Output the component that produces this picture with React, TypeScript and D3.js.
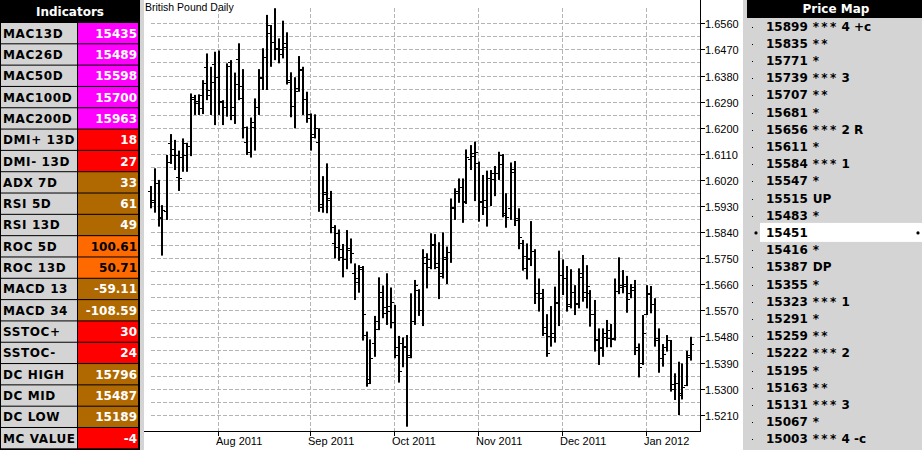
import React from "react";
import * as d3 from "d3";

// ---------------- Indicators panel ----------------
const indicatorLabels = [
  "MAC13D", "MAC26D", "MAC50D", "MAC100D", "MAC200D",
  "DMI+ 13D", "DMI- 13D", "ADX 7D", "RSI 5D", "RSI 13D",
  "ROC 5D", "ROC 13D", "MACD 13", "MACD 34", "SSTOC+",
  "SSTOC-", "DC HIGH", "DC MID", "DC LOW", "MC VALUE",
];
const indicatorValues = [
  "15435", "15489", "15598", "15700", "15963",
  "18", "27", "33", "61", "49",
  "100.61", "50.71", "-59.11", "-108.59", "30",
  "24", "15796", "15487", "15189", "-4",
];
const indicatorSignal = [
  "avg", "avg", "avg", "avg", "avg",
  "bear", "bear", "neutral", "neutral", "neutral",
  "bull", "bull", "neutral", "neutral", "bear",
  "bear", "neutral", "neutral", "neutral", "bear",
];

// ---------------- Price map panel ----------------
const priceMapLevels = [
  15899, 15835, 15771, 15739, 15707, 15681, 15656, 15611, 15584, 15547, 15515, 15483,
  15451,
  15416, 15387, 15355, 15323, 15291, 15259, 15222, 15195, 15163, 15131, 15067, 15003,
];
const priceMapStars = [
  "***", "**", "*", "***", "**", "*", "***", "*", "***", "*", "", "*",
  "",
  "*", "", "*", "***", "*", "**", "***", "*", "**", "***", "*", "***",
];
const priceMapTags = [
  "4 +c", "", "", "3", "", "", "2 R", "", "1", "", "UP", "",
  "",
  "", "DP", "", "1", "", "", "2", "", "", "3", "", "4 -c",
];
const currentLevel = 15451;

// ---------------- Chart data (pips, price x 10000) ----------------
const highs = [
  15999, 16060, 16020, 15933, 16106, 16178, 16158, 16121, 16163, 16148,
  16318, 16313, 16315, 16364, 16456, 16410, 16462, 16466, 16295, 16422,
  16433, 16390, 16491, 16402, 16204, 16235, 16301, 16402, 16474, 16589,
  16554, 16612, 16508, 16569, 16529, 16391, 16374, 16447, 16410, 16324,
  16249, 16246, 16198, 16033, 16077, 15982, 15864, 15849, 15799, 15847,
  15818, 15732, 15726, 15723, 15497, 15470, 15551, 15684, 15656, 15698,
  15649, 15589, 15482, 15477, 15485, 15629, 15675, 15643, 15781, 15767,
  15836, 15833, 15805, 15839, 15790, 15956, 15991, 16025, 16025, 16125,
  16140, 16152, 16083, 16037, 16052, 16054, 16068, 16117, 16109, 15974,
  16080, 16085, 15922, 15813, 15801, 15878, 15781, 15680, 15644, 15557,
  15585, 15652, 15776, 15746, 15723, 15712, 15657, 15715, 15761, 15726,
  15640, 15606, 15508, 15508, 15537, 15523, 15680, 15753, 15709, 15689,
  15661, 15675, 15456, 15554, 15657, 15654, 15612, 15508, 15454, 15485,
  15468, 15353, 15393, 15387, 15431, 15479,
];
const lows = [
  15922, 15907, 15859, 15759, 15882, 16075, 16054, 15982, 16048, 16048,
  16102, 16244, 16244, 16247, 16295, 16244, 16209, 16244, 16209, 16238,
  16226, 16213, 16295, 16163, 16106, 16097, 16121, 16244, 16330, 16330,
  16410, 16433, 16422, 16439, 16349, 16236, 16198, 16324, 16244, 16217,
  16121, 16163, 15910, 15907, 15905, 15836, 15749, 15741, 15684, 15712,
  15732, 15606, 15631, 15466, 15307, 15316, 15410, 15502, 15543, 15520,
  15508, 15405, 15321, 15374, 15169, 15405, 15520, 15551, 15516, 15646,
  15712, 15712, 15609, 15680, 15661, 15734, 15882, 15941, 15872, 15937,
  16054, 15947, 15876, 15899, 15859, 15930, 15964, 16020, 15891, 15855,
  15882, 15861, 15781, 15707, 15677, 15723, 15592, 15566, 15482, 15410,
  15445, 15459, 15516, 15623, 15566, 15577, 15554, 15577, 15600, 15577,
  15514, 15428, 15382, 15410, 15443, 15443, 15466, 15626, 15629, 15562,
  15612, 15416, 15339, 15382, 15554, 15560, 15445, 15355, 15376, 15428,
  15290, 15261, 15209, 15263, 15309, 15397,
];
const opens = [
  15983, 15951, 16009, 15891, 15913, 16146, 16125, 16031, 16100, 16146,
  16138, 16307, 16284, 16267, 16410, 16330, 16418, 16375, 16290, 16272,
  16427, 16244, 16436, 16301, 16152, 16117, 16221, 16272, 16370, 16443,
  16528, 16494, 16474, 16454, 16479, 16359, 16275, 16336, 16401, 16298,
  16246, 16178, 16150, 15937, 15977, 15951, 15801, 15836, 15753, 15746,
  15778, 15698, 15680, 15721, 15485, 15321, 15456, 15534, 15615, 15560,
  15585, 15531, 15416, 15459, 15443, 15416, 15534, 15640, 15571, 15755,
  15746, 15799, 15721, 15689, 15753, 15772, 15925, 15976, 15994, 15948,
  16091, 16114, 16077, 15945, 15925, 16025, 16045, 16043, 16074, 15899,
  15922, 16056, 15887, 15801, 15715, 15749, 15776, 15631, 15631, 15514,
  15482, 15493, 15600, 15692, 15680, 15592, 15634, 15592, 15698, 15615,
  15631, 15557, 15468, 15439, 15491, 15502, 15470, 15638, 15657, 15655,
  15631, 15640, 15445, 15387, 15557, 15626, 15592, 15474, 15405, 15445,
  15468, 15316, 15318, 15278, 15313, 15416,
];
const closes = [
  15945, 16009, 15887, 15916, 16083, 16106, 16106, 16028, 16106, 16138,
  16298, 16292, 16313, 16353, 16313, 16359, 16376, 16292, 16272, 16413,
  16270, 16351, 16344, 16201, 16117, 16201, 16270, 16374, 16445, 16554,
  16494, 16470, 16471, 16491, 16364, 16275, 16328, 16399, 16298, 16232,
  16169, 16198, 15928, 15970, 15956, 15856, 15790, 15781, 15746, 15784,
  15767, 15669, 15712, 15557, 15332, 15405, 15505, 15634, 15581, 15569,
  15600, 15445, 15362, 15447, 15410, 15534, 15657, 15571, 15734, 15721,
  15795, 15734, 15698, 15746, 15770, 15922, 15983, 15997, 15943, 16100,
  16102, 16117, 15948, 15951, 16025, 16023, 16043, 16106, 15905, 15893,
  16048, 15882, 15822, 15759, 15746, 15776, 15631, 15612, 15493, 15422,
  15479, 15594, 15692, 15680, 15585, 15634, 15594, 15684, 15632, 15654,
  15557, 15470, 15443, 15479, 15474, 15474, 15638, 15652, 15661, 15608,
  15649, 15433, 15376, 15493, 15629, 15592, 15468, 15405, 15420, 15468,
  15298, 15321, 15284, 15307, 15410, 15454,
];

const monthTickIndex = [17, 40, 61, 82, 103, 124];
const monthTickLabels = ["Aug 2011", "Sep 2011", "Oct 2011", "Nov 2011", "Dec 2011", "Jan 2012"];
const yTickValues = [
  1.521, 1.53, 1.539, 1.548, 1.557, 1.566, 1.575, 1.584,
  1.593, 1.602, 1.611, 1.62, 1.629, 1.638, 1.647, 1.656,
];

const chartTitle = "British Pound Daily";

// ---------------- Styles ----------------
const signalFill: Record<string, string> = {
  avg: "#ff00ff",
  bear: "#ff0000",
  neutral: "#b06800",
  bull: "#ff6a00",
};
const signalText: Record<string, string> = {
  avg: "#ffffff",
  bear: "#ffffff",
  neutral: "#ffffff",
  bull: "#000000",
};
const PANEL_GRAY = "#d4d4d4";
const BOLD_FONT = "'DejaVu Sans', Verdana, sans-serif";
const CHART_FONT = "'Liberation Sans', Arial, sans-serif";

export default function App() {
  const W = 922;
  const H = 450;

  // chart geometry
  const plotLeft = 144;
  const axisX = 700;
  const axisY = 431;

  const xs = d3.scaleLinear().domain([0, highs.length - 1]).range([150.5, 690.5]);
  const ys = d3.scaleLinear().domain([1.521, 1.656]).range([414.8, 23.3]);
  const p = (v: number) => v / 10000;

  const gridValues = d3.range(0, 31).map((k) => 1.521 + k * 0.0045);

  // indicator rows
  const rowTop = d3.scaleLinear().domain([0, 19]).range([23, 428]);
  const rowH = 20.3;

  // price map rows
  const pmY = d3.scaleLinear().domain([0, priceMapLevels.length - 1]).range([26.5, 439.3]);

  return (
    <svg
      width={W}
      height={H}
      style={{ position: "absolute", left: 0, top: 0, display: "block", background: "#ffffff" }}
    >
      {/* ===== Indicators panel ===== */}
      <rect x={0} y={0} width={140} height={H} fill="#000000" />
      <text
        x={70}
        y={11.5}
        textAnchor="middle"
        dominantBaseline="central"
        fill="#ffffff"
        fontFamily={BOLD_FONT}
        fontWeight="bold"
        fontSize={12}
      >
        Indicators
      </text>
      {indicatorLabels.map((lab, i) => {
        const t = rowTop(i);
        const sig = indicatorSignal[i];
        return (
          <g key={lab}>
            <rect x={1} y={t} width={76} height={rowH} fill={PANEL_GRAY} />
            <rect x={78} y={t} width={60} height={rowH} fill={signalFill[sig]} />
            <text
              x={3}
              y={t + rowH / 2 + 0.5}
              dominantBaseline="central"
              fill="#000000"
              fontFamily={BOLD_FONT}
              fontWeight="bold"
              fontSize={12}
              letterSpacing={0.6}
            >
              {lab}
            </text>
            <text
              x={137}
              y={t + rowH / 2 + 0.5}
              textAnchor="end"
              dominantBaseline="central"
              fill={signalText[sig]}
              fontFamily={BOLD_FONT}
              fontWeight="bold"
              fontSize={12}
            >
              {indicatorValues[i]}
            </text>
          </g>
        );
      })}

      {/* ===== Chart panel ===== */}
      <rect x={140} y={0} width={4} height={H} fill={PANEL_GRAY} />
      <rect x={plotLeft} y={0} width={743 - plotLeft} height={H} fill="#ffffff" />

      {/* horizontal grid */}
      {gridValues.map((v, k) => (
        <line
          key={"hg" + k}
          x1={151}
          x2={axisX}
          y1={Math.round(ys(v)) + 0.5}
          y2={Math.round(ys(v)) + 0.5}
          stroke="#b4b4b4"
          strokeWidth={1}
          strokeDasharray="4 2"
        />
      ))}
      {/* vertical grid */}
      {monthTickIndex.map((idx, k) => (
        <line
          key={"vg" + k}
          x1={Math.floor(xs(idx)) + 0.5}
          x2={Math.floor(xs(idx)) + 0.5}
          y1={8}
          y2={axisY}
          stroke="#b4b4b4"
          strokeWidth={1}
          strokeDasharray="4 2"
        />
      ))}

      <text x={145} y={11} fill="#000000" fontFamily={CHART_FONT} fontSize={10.5}>
        {chartTitle}
      </text>

      {/* OHLC bars */}
      {highs.map((h, i) => {
        const x = Math.round(xs(i));
        const yH = ys(p(h));
        const yL = ys(p(lows[i]));
        const yO = Math.round(ys(p(opens[i])));
        const yC = Math.round(ys(p(closes[i])));
        return (
          <g key={"b" + i} fill="#000000">
            <rect x={x - 1} y={yH} width={2} height={Math.max(1, yL - yH)} />
            <rect x={x - 3} y={yO} width={2} height={1} />
            <rect x={x + 1} y={yC} width={2} height={1} />
          </g>
        );
      })}

      {/* axes */}
      <line x1={axisX + 0.5} x2={axisX + 0.5} y1={0} y2={axisY + 1} stroke="#000000" />
      <line x1={plotLeft} x2={axisX + 1} y1={axisY + 0.5} y2={axisY + 0.5} stroke="#000000" />
      {yTickValues.map((v) => {
        const y = Math.round(ys(v)) + 0.5;
        return (
          <g key={"yt" + v}>
            <line x1={axisX} x2={axisX + 5} y1={y} y2={y} stroke="#000000" />
            <text
              x={axisX + 5}
              y={y}
              dominantBaseline="central"
              fill="#000000"
              fontFamily={CHART_FONT}
              fontSize={11}
            >
              {v.toFixed(4)}
            </text>
          </g>
        );
      })}
      {monthTickIndex.map((idx, k) => {
        const x = Math.floor(xs(idx)) + 0.5;
        return (
          <g key={"xt" + k}>
            <line x1={x} x2={x} y1={axisY} y2={axisY + 5} stroke="#000000" />
            <text x={x - 2.5} y={445} fill="#000000" fontFamily={CHART_FONT} fontSize={11}>
              {monthTickLabels[k]}
            </text>
          </g>
        );
      })}

      {/* ===== Price map panel ===== */}
      <rect x={743} y={0} width={W - 743} height={H} fill={PANEL_GRAY} />
      <rect x={747} y={0} width={W - 747} height={18} fill="#000000" />
      <text
        x={836}
        y={9}
        textAnchor="middle"
        dominantBaseline="central"
        fill="#ffffff"
        fontFamily={BOLD_FONT}
        fontWeight="bold"
        fontSize={12}
      >
        Price Map
      </text>
      {priceMapLevels.map((lvl, i) => {
        const y = pmY(i);
        const isCur = lvl === currentLevel;
        return (
          <g key={"pm" + i}>
            {isCur && <rect x={760} y={y - 10} width={W - 760} height={19} fill="#ffffff" />}
            {isCur ? (
              <>
                <circle cx={756} cy={y} r={1.6} fill="#000000" />
                <circle cx={918} cy={y} r={1.6} fill="#000000" />
              </>
            ) : (
              <rect x={752} y={Math.round(y)} width={1} height={1} fill="#000000" />
            )}
            <text
              x={766}
              y={y}
              dominantBaseline="central"
              fill="#000000"
              fontFamily={BOLD_FONT}
              fontWeight="bold"
              fontSize={12}
            >
              <tspan>{String(lvl)}</tspan>
              {priceMapStars[i] && (
                <tspan dx={5} letterSpacing={2.3}>
                  {priceMapStars[i]}
                </tspan>
              )}
              {priceMapTags[i] && <tspan dx={priceMapStars[i] ? 3 : 5}>{priceMapTags[i]}</tspan>}
            </text>
          </g>
        );
      })}
    </svg>
  );
}
